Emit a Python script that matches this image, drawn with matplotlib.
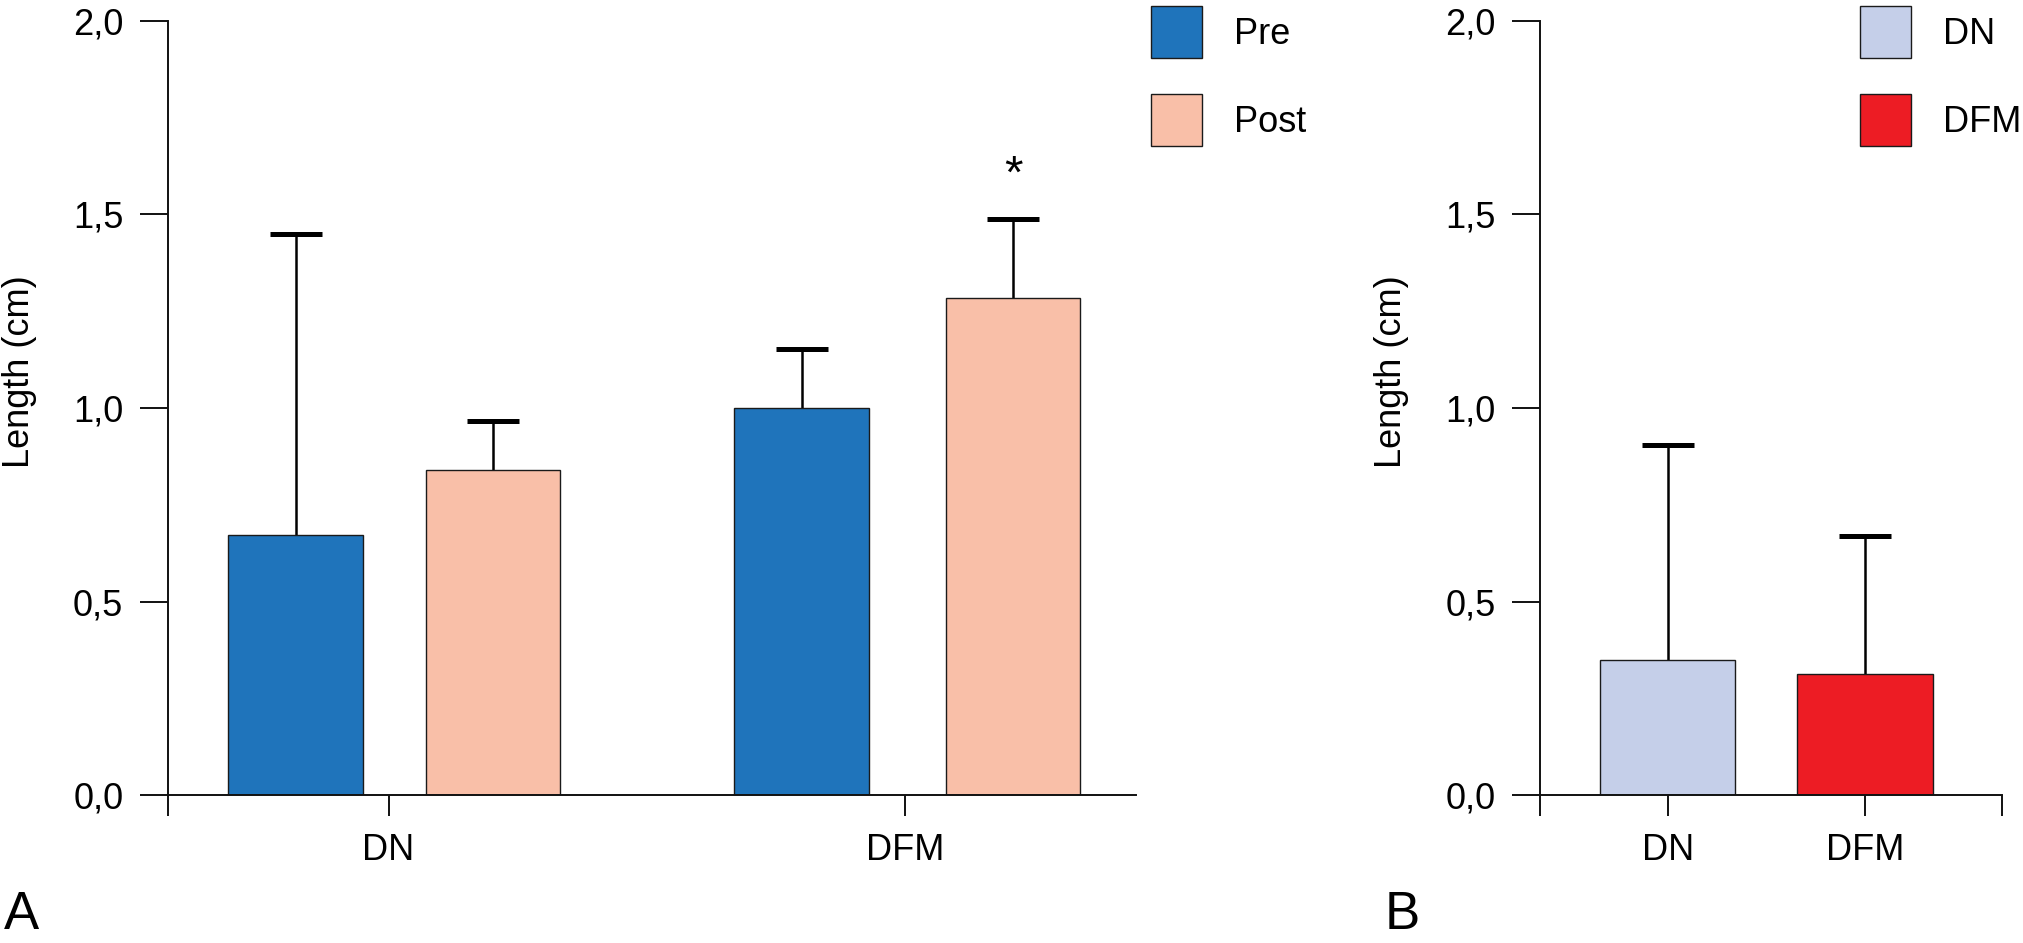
import matplotlib
matplotlib.use("Agg")
import matplotlib.pyplot as plt
import numpy as np

plt.rcParams['font.family'] = ['Liberation Sans', 'DejaVu Sans']

# ---- data ----
groups_a = ['DN', 'DFM']
pre_mean = [0.673, 1.0]
pre_sd = [0.777, 0.153]
post_mean = [0.84, 1.283]
post_sd = [0.127, 0.204]
series_a = ['Pre', 'Post']

groups_b = ['DN', 'DFM']
b_mean = [0.35, 0.313]
b_sd = [0.553, 0.357]

yticks = [0.0, 0.5, 1.0, 1.5, 2.0]
ytick_labels = ['0,0', '0,5', '1,0', '1,5', '2,0']
ylabel = 'Length (cm)'

# ---- style ----
c_pre = '#1f74bb'
c_post = '#f9bfa8'
c_bdn = '#c5cfe9'
c_bdfm = '#ed1c24'
edge = '#1a1a1a'
FS = 26

W, H = 2024, 943
fig = plt.figure(figsize=(W / 100, H / 100), dpi=100)

def frac(x0, x1, y0, y1):
    return [x0 / W, 1 - y1 / H, (x1 - x0) / W, (y1 - y0) / H]

s = 2024 / 1568
axA = fig.add_axes(frac(130 * s, 880 * s, 16 * s, 616 * s))
axB = fig.add_axes(frac(1193 * s, 1551 * s, 16 * s, 616 * s))

def style(ax, xlim, xt, xtl):
    ax.set_ylim(0, 2.0)
    ax.set_xlim(*xlim)
    for sp in ['top', 'right']:
        ax.spines[sp].set_visible(False)
    for sp in ['left', 'bottom']:
        ax.spines[sp].set_linewidth(1.4)
        ax.spines[sp].set_color('#111111')
    ax.set_yticks(yticks)
    ax.set_yticklabels(ytick_labels)
    ax.set_xticks(xt)
    ax.set_xticklabels(xtl)
    ax.tick_params(axis='y', direction='out', length=20, width=1.4, pad=12,
                   labelsize=FS, color='#111111')
    ax.tick_params(axis='x', direction='out', length=15, width=1.4, pad=12,
                   labelsize=FS, color='#111111')

def up_errorbar(ax, xs, ys, errs):
    _, caps, _ = ax.errorbar(xs, ys, yerr=[np.zeros(len(xs)), errs], fmt='none',
                             ecolor='black', elinewidth=1.8, capsize=18.5,
                             capthick=3.6, zorder=1)
    caps[0].set_visible(False)  # hide lower caps (only upward SD)

x = np.arange(len(groups_a))
pre_x = x + np.array([-0.18, -0.2])
post_x = x + np.array([0.2025, 0.21])
bw = 0.26
axA.bar(pre_x, pre_mean, bw, color=c_pre, edgecolor=edge, linewidth=1.0, zorder=2, label=series_a[0])
axA.bar(post_x, post_mean, bw, color=c_post, edgecolor=edge, linewidth=1.0, zorder=2, label=series_a[1])
up_errorbar(axA, pre_x, pre_mean, pre_sd)
up_errorbar(axA, post_x, post_mean, post_sd)
xlimA = (-0.4275, 1.4475)
style(axA, xlimA, [xlimA[0], 0, 1], ['', groups_a[0], groups_a[1]])
axA.text(post_x[1], post_mean[1] + post_sd[1] + 0.055, '*', ha='center', va='bottom', fontsize=34)

xb = np.arange(len(groups_b))
bwb = 0.686
hb = axB.bar(xb, b_mean, bwb, color=[c_bdn, c_bdfm], edgecolor=edge, linewidth=1.0, zorder=2)
up_errorbar(axB, xb, b_mean, b_sd)
xlimB = (-0.647, 1.693)
style(axB, xlimB, [xlimB[0], 0, 1, xlimB[1]], ['', groups_b[0], groups_b[1], ''])

for ax, xc in [(axA, -0.153), (axB, -0.321)]:
    ax.set_ylabel(ylabel, fontsize=FS)
    ax.yaxis.label.set_va('center')
    ax.yaxis.set_label_coords(xc, 0.547)

legkw = dict(frameon=False, fontsize=FS, handlelength=1.40, handleheight=1.82,
             labelspacing=1.0, handletextpad=0.9, borderpad=0, borderaxespad=0,
             loc='upper left')
hA, lA = axA.get_legend_handles_labels()
fig.legend(hA, lA, bbox_to_anchor=(892 * s / W, 1 - 5 * s / H), **legkw)
fig.legend([hb.patches[0], hb.patches[1]], groups_b,
           bbox_to_anchor=(1441 * s / W, 1 - 5 * s / H), **legkw)

fig.text(3 * s / W, 1 - 720 * s / H, 'A', fontsize=38, ha='left', va='baseline')
fig.text(1073 * s / W, 1 - 720 * s / H, 'B', fontsize=38, ha='left', va='baseline')

fig.savefig('out.png', dpi=100, facecolor='white')
